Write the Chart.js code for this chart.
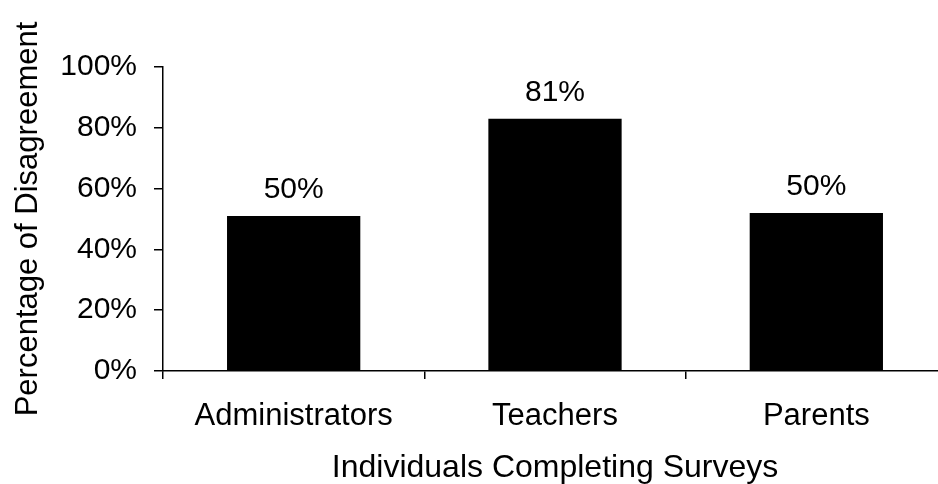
<!DOCTYPE html>
<html>
<head>
<meta charset="utf-8">
<script src="https://cdn.jsdelivr.net/npm/chart.js@4"></script>
<style>
  html, body { margin: 0; padding: 0; background: #fff; overflow: hidden; }
  #wrap { position: absolute; left: 0; top: 0; width: 950px; height: 484px; }
</style>
</head>
<body>
<div id="wrap"><canvas id="surveyChart" width="950" height="484"></canvas></div>
<script>
// ============ DATA ============
const groups = ["Administrators", "Teachers", "Parents"];
const disagreement = [51, 83, 52];          // bar heights
const valueLabels = ["50%", "81%", "50%"];  // printed labels above the bars
const yTicks = [0, 20, 40, 60, 80, 100];

const FONT = "'Liberation Sans', Arial, sans-serif";

// draw the printed value above each bar
const barLabels = {
    id: "barLabels",
    afterDatasetsDraw(chart) {
        const ctx = chart.ctx;
        const meta = chart.getDatasetMeta(0);
        ctx.save();
        ctx.fillStyle = "#000";
        ctx.font = "30px " + FONT;
        ctx.textAlign = "center";
        ctx.textBaseline = "alphabetic";
        meta.data.forEach((bar, i) => {
            ctx.fillText(valueLabels[i], bar.x, bar.y - 18);
        });
        ctx.restore();
    }
};

const ctx = document.getElementById("surveyChart").getContext("2d");

new Chart(ctx, {
    type: "bar",
    data: {
        labels: groups,
        datasets: [{
            data: disagreement,
            backgroundColor: "#000",
            borderWidth: 0,
            categoryPercentage: 1,
            barPercentage: 0.51
        }]
    },
    options: {
        responsive: false,
        animation: false,
        layout: { padding: { top: 67, right: 3, left: 0, bottom: 0 } },
        plugins: {
            legend: { display: false },
            tooltip: { enabled: false }
        },
        scales: {
            x: {
                grid: {
                    offset: true,
                    drawOnChartArea: false,
                    color: "#000",
                    lineWidth: 1.5,
                    tickLength: 8
                },
                border: { color: "#000", width: 1.5 },
                ticks: {
                    color: "#000",
                    font: { family: FONT, size: 31, lineHeight: 1.2 },
                    padding: 19,
                    maxRotation: 0
                },
                title: {
                    display: true,
                    text: "Individuals Completing Surveys",
                    color: "#000",
                    font: { family: FONT, size: 32, lineHeight: 1 },
                    padding: { top: 0, bottom: 0 }
                },
                afterFit(scale) { scale.height = 113; }
            },
            y: {
                min: 0,
                max: 100,
                afterBuildTicks(scale) {
                    scale.ticks = yTicks.map(v => ({ value: v }));
                },
                grid: {
                    drawOnChartArea: false,
                    color: "#000",
                    lineWidth: 1.5,
                    tickLength: 9
                },
                border: { color: "#000", width: 1.5 },
                ticks: {
                    color: "#000",
                    font: { family: FONT, size: 30 },
                    padding: 17,
                    callback: v => v + "%"
                },
                title: {
                    display: true,
                    text: "Percentage of Disagreement",
                    color: "#000",
                    font: { family: FONT, size: 31, lineHeight: 1.2 },
                    padding: { top: 10, bottom: 0 }
                },
                afterFit(scale) { scale.width = 163; }
            }
        }
    },
    plugins: [barLabels]
});
</script>
</body>
</html>
